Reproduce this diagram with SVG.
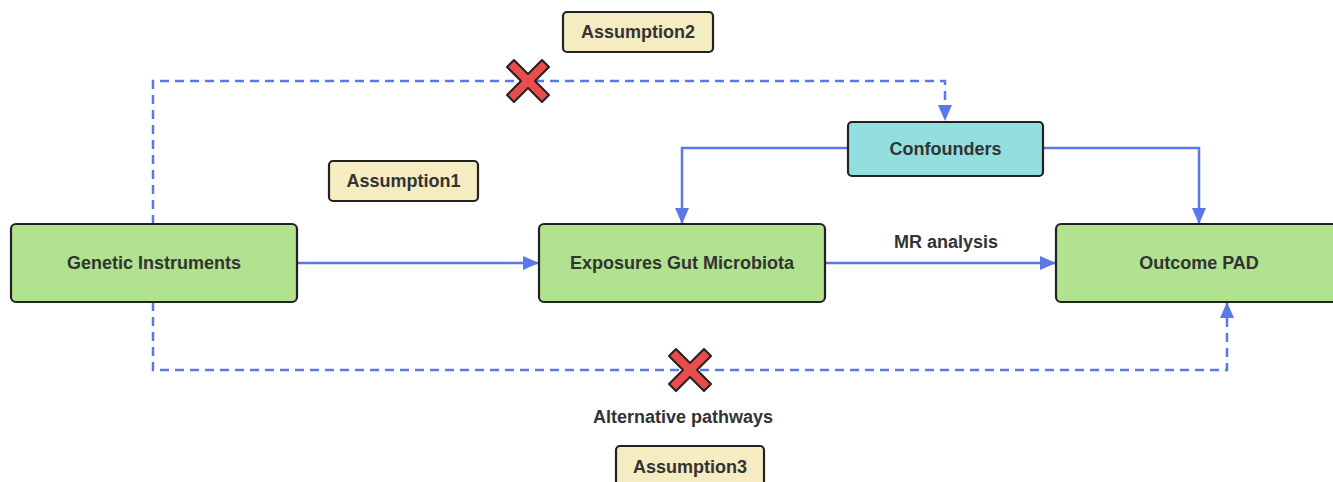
<svg xmlns="http://www.w3.org/2000/svg" width="1333" height="482" viewBox="0 0 1333 482">
<style>
.box{stroke:#222;stroke-width:2.2}
.g{fill:#b0e28f}
.c{fill:#93dfe0}
.y{fill:#f5ecc2}
text{font-family:"Liberation Sans",Arial,sans-serif;font-weight:bold;font-size:18px;fill:#333;text-anchor:middle;dominant-baseline:central}
.ln{fill:none;stroke:#5a78e8;stroke-width:2.5}
.d{stroke-dasharray:9 6}
.x{fill:#e84c4c;stroke:#222;stroke-width:2;stroke-linejoin:round}
</style>
<defs>
<marker id="ah" viewBox="0 0 16 14" refX="16" refY="7" markerWidth="16" markerHeight="14" markerUnits="userSpaceOnUse" orient="auto">
<path d="M0,0 L16,7 L0,14 Z" fill="#5a78e8"/>
</marker>
<path id="xs" d="M-21,-14 L-14,-21 L0,-7 L14,-21 L21,-14 L7,0 L21,14 L14,21 L0,7 L-14,21 L-21,14 L-7,0 Z"/>
</defs>
<rect width="1333" height="482" fill="#fff"/>
<g id="connectors">
<path class="ln d" d="M153,224 V81 H945 V121" marker-end="url(#ah)"/>
<path class="ln d" d="M153,302 V370 H1227 V302" marker-end="url(#ah)"/>
<path class="ln" d="M297,263 H539" marker-end="url(#ah)"/>
<path class="ln" d="M825,263 H1056" marker-end="url(#ah)"/>
<path class="ln" d="M848,148 H682 V224" marker-end="url(#ah)"/>
<path class="ln" d="M1043,148 H1199 V224" marker-end="url(#ah)"/>
<use href="#xs" class="x" x="528" y="81"/>
<use href="#xs" class="x" x="690" y="370"/>
<text x="946" y="242">MR analysis</text>
<text x="683" y="417">Alternative pathways</text>
</g>
<g id="assumption2"><rect class="box y" x="563" y="12" width="150" height="40" rx="4"/><text x="638" y="32">Assumption2</text></g>
<g id="assumption1"><rect class="box y" x="329" y="161" width="149" height="40" rx="4"/><text x="403.5" y="181">Assumption1</text></g>
<g id="assumption3"><rect class="box y" x="616" y="446" width="148" height="42" rx="4"/><text x="690" y="467">Assumption3</text></g>
<g id="confounders"><rect class="box c" x="848" y="122" width="195" height="54" rx="4"/><text x="945.5" y="149">Confounders</text></g>
<g id="genetic"><rect class="box g" x="11" y="224" width="286" height="78" rx="5"/><text x="154" y="263">Genetic Instruments</text></g>
<g id="exposures"><rect class="box g" x="539" y="224" width="286" height="78" rx="5"/><text x="682" y="263">Exposures Gut Microbiota</text></g>
<g id="outcome"><rect class="box g" x="1056" y="224" width="286" height="78" rx="5"/><text x="1199" y="263">Outcome PAD</text></g>
</svg>
